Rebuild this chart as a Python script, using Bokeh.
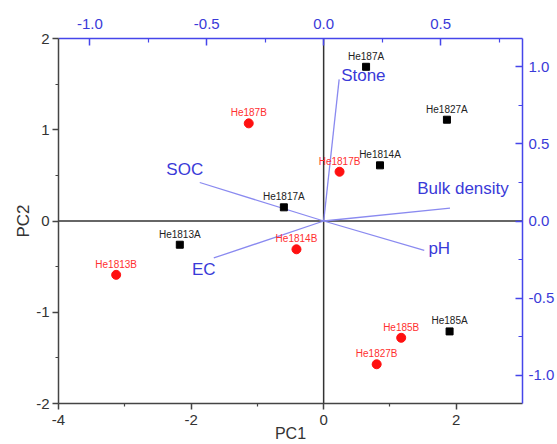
from bokeh.plotting import figure
from bokeh.models import Range1d, LinearAxis, FixedTicker, PrintfTickFormatter, Span, ColumnDataSource
from bokeh.core.properties import value
from bokeh.embed import file_html
from bokeh.resources import INLINE

# ---- data ----
names_a = ["He187A", "He1827A", "He1814A", "He1817A", "He1813A", "He185A"]
pc1_a = [0.64, 1.86, 0.85, -0.60, -2.17, 1.90]
pc2_a = [1.69, 1.11, 0.61, 0.15, -0.26, -1.21]

names_b = ["He187B", "He1817B", "He1814B", "He1813B", "He185B", "He1827B"]
pc1_b = [-1.13, 0.24, -0.41, -3.13, 1.17, 0.80]
pc2_b = [1.07, 0.54, -0.31, -0.59, -1.28, -1.57]

variables = ["Stone", "Bulk density", "SOC", "EC", "pH"]
load1 = [0.066, 0.54, -0.53, -0.47, 0.43]
load2 = [0.92, 0.083, 0.25, -0.24, -0.19]

bottom_ticks = [-4, -2, 0, 2]
left_ticks = [-2, -1, 0, 1, 2]
top_ticks = [-1.0, -0.5, 0.0, 0.5]
right_ticks = [-1.0, -0.5, 0.0, 0.5, 1.0]

# ---- styling (label offsets in px) ----
var_dx = [2, 13, -15, -10, 15]
var_dy = [-4, -20, -13, 12, -2]
var_align = ["left", "center", "center", "center", "center"]

FONT = "Liberation Sans"
BLUE_TXT = "#3a3ad8"
BLUE_AX = "#4646ea"
GRAY = "#444444"

p = figure(width=557, height=444, x_range=Range1d(-4, 3), y_range=Range1d(-2, 2),
           output_backend="svg", toolbar_location=None,
           min_border_left=58, min_border_right=35, min_border_top=38, min_border_bottom=41)
p.xgrid.visible = False
p.ygrid.visible = False
p.outline_line_color = None
p.background_fill_color = "white"

p.extra_x_ranges = {"top": Range1d(-1.134, 0.850)}
p.extra_y_ranges = {"right": Range1d(-1.185, 1.185)}

def style_axis(ax, color, lab_color, inside, standoff):
    ax.axis_line_color = color
    ax.axis_line_width = 1.5
    ax.major_tick_line_color = color
    ax.minor_tick_line_color = color
    ax.major_tick_line_width = 1.5
    ax.minor_tick_line_width = 1.2
    if inside:
        ax.major_tick_in = 7
        ax.major_tick_out = 0
        ax.minor_tick_in = 4
        ax.minor_tick_out = 0
    else:
        ax.major_tick_in = 0
        ax.major_tick_out = 6
        ax.minor_tick_in = 0
        ax.minor_tick_out = 3
    ax.major_label_text_font = FONT
    ax.major_label_text_font_size = "15px"
    ax.major_label_text_color = lab_color
    ax.major_label_standoff = standoff

xax = p.xaxis[0]
xax.ticker = FixedTicker(ticks=bottom_ticks, minor_ticks=[-3, -1, 1])
xax.formatter = PrintfTickFormatter(format="%d")
style_axis(xax, GRAY, "#333333", False, 5)
xax.axis_label = "PC1"
xax.axis_label_text_font = FONT
xax.axis_label_text_font_size = "16px"
xax.axis_label_text_font_style = "normal"
xax.axis_label_text_color = "#333333"
xax.axis_label_standoff = -3

yax = p.yaxis[0]
yax.ticker = FixedTicker(ticks=left_ticks, minor_ticks=[-1.5, -0.5, 0.5, 1.5])
yax.formatter = PrintfTickFormatter(format="%d")
style_axis(yax, GRAY, "#333333", False, 3)
yax.axis_label = "PC2"
yax.axis_label_text_font = FONT
yax.axis_label_text_font_size = "17px"
yax.axis_label_text_font_style = "normal"
yax.axis_label_text_color = "#333333"
yax.axis_label_standoff = 0

top_ax = LinearAxis(x_range_name="top",
                    ticker=FixedTicker(ticks=top_ticks, minor_ticks=[-0.75, -0.25, 0.25, 0.75]),
                    formatter=PrintfTickFormatter(format="%.1f"))
style_axis(top_ax, BLUE_AX, BLUE_TXT, True, 10)
p.add_layout(top_ax, "above")

right_ax = LinearAxis(y_range_name="right",
                      ticker=FixedTicker(ticks=right_ticks, minor_ticks=[-0.75, -0.25, 0.25, 0.75]),
                      formatter=PrintfTickFormatter(format="%.1f"))
style_axis(right_ax, BLUE_AX, BLUE_TXT, True, 6)
p.add_layout(right_ax, "right")

# zero lines
p.add_layout(Span(location=0, dimension="height", line_color="#333333", line_width=1.5, level="underlay"))
p.add_layout(Span(location=0, dimension="width", line_color="#333333", line_width=1.5, level="underlay"))

# loading vectors
vsrc = ColumnDataSource(dict(x0=[0] * len(variables), y0=[0] * len(variables), x1=load1, y1=load2,
                             name=variables, dx=var_dx, dy=var_dy, align=var_align))
p.segment(x0="x0", y0="y0", x1="x1", y1="y1", source=vsrc, x_range_name="top", y_range_name="right",
          line_color="#8a8af0", line_width=1.3)
p.text(x="x1", y="y1", text="name", source=vsrc, x_range_name="top", y_range_name="right",
       x_offset="dx", y_offset="dy", text_align="align", text_baseline="middle",
       text_font=value(FONT), text_font_size="17px", text_color=BLUE_TXT)

# scores
asrc = ColumnDataSource(dict(x=pc1_a, y=pc2_a, name=names_a))
bsrc = ColumnDataSource(dict(x=pc1_b, y=pc2_b, name=names_b))
p.scatter(x="x", y="y", source=asrc, marker="square", size=7, color="black")
p.scatter(x="x", y="y", source=bsrc, marker="circle", size=9, color="#ff1010")
p.text(x="x", y="y", text="name", source=asrc, text_align="center", text_baseline="bottom",
       y_offset=-5, text_font=value(FONT), text_font_size="10px", text_color="#222222")
p.text(x="x", y="y", text="name", source=bsrc, text_align="center", text_baseline="bottom",
       y_offset=-5, text_font=value(FONT), text_font_size="10px", text_color="#ff3030")

open("out.html", "w").write(file_html(p, INLINE))
